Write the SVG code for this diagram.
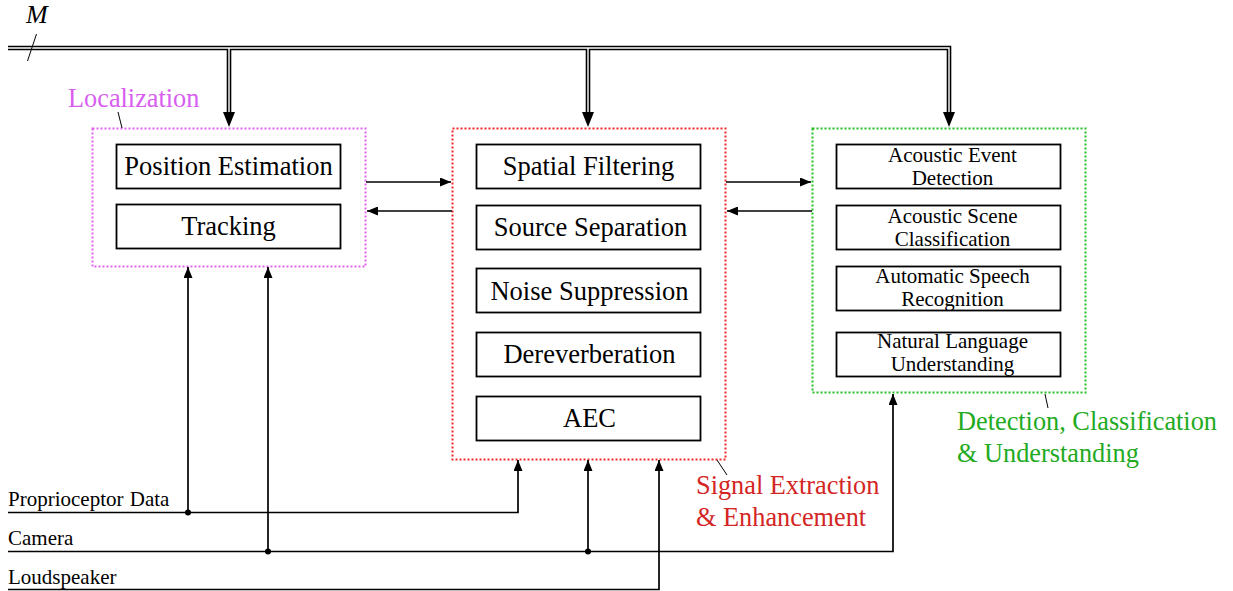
<svg xmlns="http://www.w3.org/2000/svg" width="1233" height="591" viewBox="0 0 1233 591">
<style>
text{font-family:'Liberation Serif','Times New Roman',serif;fill:#000}
.box{fill:#fff;stroke:#000;stroke-width:1.8}
.big{font-size:26.5px;text-anchor:middle}
.sm{font-size:21px;text-anchor:middle}
.io{font-size:21px;word-spacing:1px}
.lbl{font-size:26.3px}
.mag{fill:#d85ef0}
.red{fill:#d42525}
.grn{fill:#22aa22}
.grp{fill:none;stroke-width:2;stroke-dasharray:2 2}
.ln{fill:none;stroke:#000;stroke-width:1.7}
.dbl{fill:none;stroke:#000;stroke-width:4.6}
.dblw{fill:none;stroke:#fff;stroke-width:1.4}
.lead{fill:none;stroke:#000;stroke-width:1}
</style>
<defs>
<marker id="ah" viewBox="0 0 11 9" refX="11" refY="4.5" markerWidth="11" markerHeight="9" markerUnits="userSpaceOnUse" orient="auto">
<path d="M0,0 L11,4.5 L0,9 Z" fill="#000"/>
</marker>
</defs>
<rect width="1233" height="591" fill="#fff"/>

<g id="bus">
<path class="dbl" d="M8 48 H949 V114 M229 48 V114 M588 48 V114"/>
<path class="dblw" d="M8 48 H949 V114 M229 48 V114 M588 48 V114"/>
<path d="M223 112 L235 112 L229 127 Z M582 112 L594 112 L588 127 Z M943 112 L955 112 L949 127 Z" fill="#000"/>
<line class="lead" x1="27.5" y1="61" x2="36.5" y2="34"/>
<text x="26" y="23" style="font-size:26px;font-style:italic">M</text>
</g>

<g id="localization">
<rect class="grp" x="92.5" y="128.5" width="273" height="138" stroke="#e060f0"/>
<rect class="box" x="116.5" y="144.5" width="224" height="44"/>
<text class="big" x="228.5" y="175">Position Estimation</text>
<rect class="box" x="116.5" y="204.5" width="224" height="44"/>
<text class="big" x="228.5" y="235">Tracking</text>
<text class="lbl mag" x="68" y="107">Localization</text>
<line class="lead" x1="118" y1="112" x2="122" y2="128"/>
</g>

<g id="signal">
<rect class="grp" x="452.5" y="128.5" width="273" height="331" stroke="#f02828"/>
<rect class="box" x="476.5" y="144.5" width="224" height="44"/>
<text class="big" x="588.5" y="175">Spatial Filtering</text>
<rect class="box" x="476.5" y="205.5" width="224" height="44"/>
<text class="big" x="590.5" y="236">Source Separation</text>
<rect class="box" x="476.5" y="268.5" width="224" height="44"/>
<text class="big" x="589.5" y="300">Noise Suppression</text>
<rect class="box" x="476.5" y="332.5" width="224" height="44"/>
<text class="big" x="589.5" y="363">Dereverberation</text>
<rect class="box" x="476.5" y="396.5" width="224" height="44"/>
<text class="big" x="589.5" y="427">AEC</text>
<line class="lead" x1="717" y1="460" x2="727" y2="475"/>
<text class="lbl red" x="696" y="494">Signal Extraction</text>
<text class="lbl red" x="696" y="526">&amp; Enhancement</text>
</g>

<g id="detection">
<rect class="grp" x="812.5" y="128.5" width="273" height="264" stroke="#22c022"/>
<rect class="box" x="836.5" y="144.5" width="224" height="44"/>
<text class="sm" x="952.5" y="162">Acoustic Event</text>
<text class="sm" x="952.5" y="185">Detection</text>
<rect class="box" x="836.5" y="205.5" width="224" height="44"/>
<text class="sm" x="952.5" y="223">Acoustic Scene</text>
<text class="sm" x="952.5" y="246">Classification</text>
<rect class="box" x="836.5" y="266.5" width="224" height="44"/>
<text class="sm" x="952.5" y="283">Automatic Speech</text>
<text class="sm" x="952.5" y="306">Recognition</text>
<rect class="box" x="836.5" y="332.5" width="224" height="44"/>
<text class="sm" x="952.5" y="348">Natural Language</text>
<text class="sm" x="952.5" y="371">Understanding</text>
<line class="lead" x1="1045" y1="394" x2="1048" y2="408"/>
<text class="lbl grn" x="957" y="430">Detection, Classification</text>
<text class="lbl grn" x="957" y="462">&amp; Understanding</text>
</g>

<g id="connectors">
<path class="ln" d="M366 182 H451" marker-end="url(#ah)"/>
<path class="ln" d="M452 211 H367" marker-end="url(#ah)"/>
<path class="ln" d="M726 182 H811" marker-end="url(#ah)"/>
<path class="ln" d="M812 211 H727" marker-end="url(#ah)"/>
<path class="ln" d="M8 512.5 H518 V460" marker-end="url(#ah)"/>
<path class="ln" d="M188 512.5 V267" marker-end="url(#ah)"/>
<path class="ln" d="M268 551.5 V267" marker-end="url(#ah)"/>
<path class="ln" d="M8 551.5 H893 V394" marker-end="url(#ah)"/>
<path class="ln" d="M588 551.5 V460" marker-end="url(#ah)"/>
<path class="ln" d="M8 589.5 H659 V460" marker-end="url(#ah)"/>
<circle cx="188" cy="512.5" r="3" fill="#000"/>
<circle cx="268" cy="551.5" r="3" fill="#000"/>
<circle cx="588" cy="551.5" r="3" fill="#000"/>
</g>

<g id="inputs">
<text class="io" x="8" y="506">Proprioceptor Data</text>
<text class="io" x="8" y="545">Camera</text>
<text class="io" x="8" y="584">Loudspeaker</text>
</g>
</svg>
